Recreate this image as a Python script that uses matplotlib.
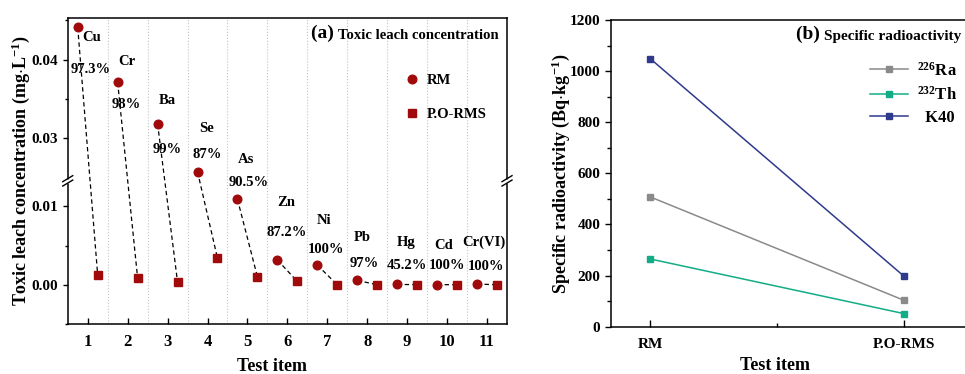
import numpy as np
import matplotlib
matplotlib.use('Agg')
import matplotlib.pyplot as plt

plt.rcParams['font.family'] = ['Liberation Serif', 'DejaVu Serif']
plt.rcParams['font.weight'] = 'bold'
plt.rcParams['axes.labelweight'] = 'bold'
plt.rcParams['mathtext.fontset'] = 'custom'
plt.rcParams['mathtext.rm'] = 'Liberation Serif:bold'
plt.rcParams['mathtext.it'] = 'Liberation Serif:italic:bold'
plt.rcParams['mathtext.bf'] = 'Liberation Serif:bold'

# ---------------- data ----------------
test_items = [1, 2, 3, 4, 5, 6, 7, 8, 9, 10, 11]
elements = ['Cu', 'Cr', 'Ba', 'Se', 'As', 'Zn', 'Ni', 'Pb', 'Hg', 'Cd', 'Cr(VI)']
rm_conc = [0.0441, 0.0371, 0.0318, 0.0257, 0.0109, 0.00316, 0.0025, 0.00056,
           0.00004, 0.00002, 0.0001]
po_conc = [0.00123, 0.00085, 0.00034, 0.00338, 0.00101, 0.00042, 0.0, 0.0,
           0.000022, 0.0, 0.0]
removal = ['97.3%', '98%', '99%', '87%', '90.5%', '87.2%', '100%', '97%',
           '45.2%', '100%', '100%']

# annotation placement (data coords)
elem_label_x = [1.11, 1.98, 3.0, 3.98, 4.97, 5.97, 6.93, 7.88, 8.98, 9.92, 10.92]
elem_label_y = [0.04276, 0.03978, 0.03472, 0.03124, 0.02728, 0.01048, 0.00819,
                0.00604, 0.0054, 0.00503, 0.0054]
pct_label_x = [1.07, 1.97, 3.0, 3.98, 5.03, 5.99, 6.97, 7.92, 9.0, 10.0, 10.98]
pct_label_y = [0.03876, 0.0343, 0.02856, 0.02792, 0.0130, 0.00667, 0.00452,
               0.00275, 0.00249, 0.00249, 0.00237]

y_major = [0.0, 0.01, 0.03, 0.04]
y_minor = [-0.005, 0.005, 0.035, 0.045]

samples = ['RM', 'P.O-RMS']
ra226 = [508, 103]
th232 = [265, 51]
k40 = [1049, 197]

RED = '#a00a0a'
C_RA = '#8a8a8a'
C_TH = '#12ad86'
C_K = '#2f3a8c'

# ---------------- broken y scale ----------------
BRK_LO, BRK_HI = 0.0133, 0.0246
EPS = 1e-3
G = (BRK_HI - BRK_LO) * (1 - EPS)
Y_LIM = (-0.0049, 0.0453)


def fwd(y):
    y = np.asarray(y, dtype=float)
    return np.where(y <= BRK_LO, y,
                    np.where(y >= BRK_HI, y - G, BRK_LO + (y - BRK_LO) * EPS))


def inv(v):
    v = np.asarray(v, dtype=float)
    t = BRK_LO + (BRK_HI - BRK_LO) * EPS
    return np.where(v <= BRK_LO, v,
                    np.where(v >= t, v + G, BRK_LO + (v - BRK_LO) / EPS))


fig = plt.figure(figsize=(9.65, 3.74), dpi=100)

# ---------------- panel (a) ----------------
ax1 = fig.add_axes([0.0702, 0.1337, 0.4552, 0.8182])
ax1.set_yscale('function', functions=(fwd, inv))
x = np.array(test_items, dtype=float)
x_rm = x - 0.25
x_po = x + 0.25
for i in range(len(x)):
    ax1.plot([x_rm[i], x_po[i]], [rm_conc[i], po_conc[i]], color='black',
             lw=0.9, ls=(0, (3.5, 2.5)), zorder=2)
ax1.plot(x_rm, rm_conc, 'o', color=RED, ms=6.2, ls='none', label='RM', zorder=3)
ax1.plot(x_po, po_conc, 's', color=RED, ms=5.6, ls='none', label='P.O-RMS', zorder=3)

for i in range(len(x)):
    ax1.text(elem_label_x[i], elem_label_y[i], elements[i], ha='center',
             va='center', fontsize=10.5, fontweight='bold')
    ax1.text(pct_label_x[i], pct_label_y[i], removal[i], ha='center',
             va='center', fontsize=10.5, fontweight='bold')

ax1.set_xlim(0.5, 11.5)
ax1.set_ylim(*Y_LIM)
ax1.set_xticks(test_items)
ax1.set_xticklabels([str(v) for v in test_items])
ax1.set_xticks(x[:-1] + 0.5, minor=True)
ax1.set_yticks(y_major)
ax1.set_yticklabels(['%.2f' % v for v in y_major])
ax1.set_yticks(y_minor, minor=True)
ax1.grid(which='minor', axis='x', ls=':', color='#c4c4c4', lw=0.8)
ax1.tick_params(axis='x', which='major', direction='in', length=4.3, width=1.0,
                labelsize=12, pad=7)
ax1.tick_params(axis='x', which='minor', length=0)
ax1.tick_params(axis='y', which='major', direction='out', length=3.5, width=1.0,
                labelsize=11)
ax1.tick_params(axis='y', which='minor', direction='out', length=2.2, width=1.0)
for s in ax1.spines.values():
    s.set_linewidth(1.1)

ax1.set_xlabel('Test item', fontsize=13, fontweight='bold')
ax1.xaxis.set_label_coords(0.465, -0.1095)
ax1.set_ylabel(r'Toxic leach concentration (mg$\cdot$L$^{-1}$)', fontsize=13,
               fontweight='bold')
ax1.yaxis.set_label_coords(-0.081, 0.5)

ax1.legend(loc='upper left', bbox_to_anchor=(0.767, 0.817), frameon=False,
           fontsize=10.5, handlelength=1.0, handletextpad=0.5,
           labelspacing=1.4, borderpad=0, borderaxespad=0)

t_a = ax1.text(0.982, 0.932, 'Toxic leach concentration', transform=ax1.transAxes,
               ha='right', va='baseline', fontsize=10.6, fontweight='bold')
ax1.annotate('(a) ', xy=(0, 0), xycoords=t_a, ha='right', va='bottom',
             fontsize=14, fontweight='bold')

# break marks (axes coordinates)
f_lo, f_hi = fwd(Y_LIM[0]), fwd(Y_LIM[1])
yb = float((fwd(BRK_LO) - f_lo) / (f_hi - f_lo))
dx = 5.0 / 439.3
dy = 3.0 / 306
gap = 2.2 / 306
for xs in (0.0, 1.0):
    ax1.plot([xs, xs], [yb - gap, yb + gap], transform=ax1.transAxes,
             color='white', lw=2.5, clip_on=False, zorder=5,
             solid_capstyle='butt')
    for off in (-gap, gap):
        ax1.plot([xs - dx, xs + dx], [yb + off - dy, yb + off + dy],
                 transform=ax1.transAxes, color='black', lw=1.0,
                 clip_on=False, zorder=6)

# ---------------- panel (b) ----------------
ax2 = fig.add_axes([0.6332, 0.1265, 0.3695, 0.82])
xs2 = np.array([1.0, 2.0])
ax2.plot(xs2, ra226, '-s', color=C_RA, lw=1.1, ms=4.5, label=r'$^{226}$Ra')
ax2.plot(xs2, th232, '-s', color=C_TH, lw=1.1, ms=4.5, label=r'$^{232}$Th')
ax2.plot(xs2, k40, '-s', color=C_K, lw=1.1, ms=4.5, label='  K40')
ax2.set_xlim(0.846, 2.25)
ax2.set_ylim(0, 1200)
ax2.set_xticks(xs2)
ax2.set_xticklabels(samples)
ax2.set_xticks([1.5], minor=True)
ax2.set_yticks(np.arange(0, 1201, 200))
ax2.set_yticks(np.arange(100, 1200, 200), minor=True)
ax2.tick_params(axis='x', which='major', direction='in', length=5, width=1.0,
                labelsize=11, pad=8)
ax2.tick_params(axis='x', which='minor', direction='in', length=3, width=1.0)
ax2.tick_params(axis='y', which='major', direction='out', length=4.3, width=1.0,
                labelsize=11)
ax2.tick_params(axis='y', which='minor', direction='out', length=2.8, width=1.0)
for s in ax2.spines.values():
    s.set_linewidth(1.1)
ax2.set_xlabel('Test item', fontsize=13, fontweight='bold')
ax2.xaxis.set_label_coords(0.46, -0.1004)
ax2.set_ylabel(r'Specific radioactivity (Bq$\cdot$kg$^{-1}$)', fontsize=13,
               fontweight='bold')
ax2.yaxis.set_label_coords(-0.1096, 0.5)

ax2.legend(loc='upper left', bbox_to_anchor=(0.726, 0.865), frameon=False,
           fontsize=12, handlelength=2.3, handletextpad=0.5, labelspacing=0.38,
           borderpad=0, borderaxespad=0)

t_b = ax2.text(0.983, 0.935, 'Specific radioactivity', transform=ax2.transAxes,
               ha='right', va='baseline', fontsize=11, fontweight='bold')
ax2.annotate('(b) ', xy=(0, 0), xycoords=t_b, ha='right', va='bottom',
             fontsize=14, fontweight='bold')

fig.savefig('out.png', dpi=100)
